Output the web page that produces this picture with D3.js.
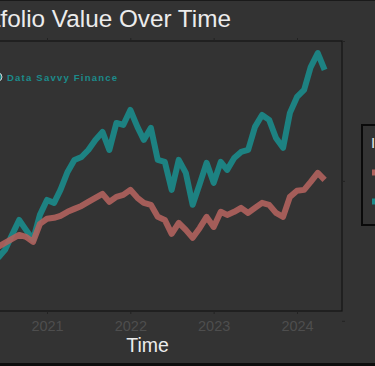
<!DOCTYPE html>
<html>
<head>
<meta charset="utf-8">
<script src="https://cdn.jsdelivr.net/npm/d3@7"></script>
<style>
  html, body { margin: 0; padding: 0; background: #333333; overflow: hidden; }
  svg { display: block; }
</style>
</head>
<body>
<svg id="chart" width="375" height="366"></svg>
<script>
// ---- data ----
const months = ["2020-06","2020-07","2020-08","2020-09","2020-10","2020-11","2020-12",
  "2021-01","2021-02","2021-03","2021-04","2021-05","2021-06","2021-07","2021-08","2021-09","2021-10","2021-11","2021-12",
  "2022-01","2022-02","2022-03","2022-04","2022-05","2022-06","2022-07","2022-08","2022-09","2022-10","2022-11","2022-12",
  "2023-01","2023-02","2023-03","2023-04","2023-05","2023-06","2023-07","2023-08","2023-09","2023-10","2023-11","2023-12",
  "2024-01","2024-02","2024-03","2024-04","2024-05"];
const seriesNames = ["Market Index", "Data Savvy Finance"];
const marketValues = [15290,15570,15860,16140,16000,15640,16930,
  17290,17360,17500,17790,18000,18210,18500,18790,19070,18500,18860,19000,
  19360,18790,18430,18290,17430,17210,16210,17000,16500,15930,16640,17430,
  16710,17790,17570,17790,18070,17710,18070,18430,18290,17710,17430,18860,
  19290,19360,19930,20570,20070];
const dsfValues = [14500,15070,16140,17210,16500,15790,17570,
  18640,18430,19360,20640,21500,21710,22210,22930,23500,22210,24140,24000,
  25070,23860,22930,23790,21500,21360,19360,21500,20570,18290,19790,21290,
  19860,21360,20790,21640,22070,22210,23860,24710,24360,23070,22360,24860,
  26000,26500,28140,29140,27930];
const xTickYears = ["2021","2022","2023","2024"];
const yTicks = [10000, 20000, 30000];
const title = "Portfolio Value Over Time";
const xTitle = "Time";
const legendTitle = "Investment";
const colors = ["#b0625d", "#1b8b8b"];

// ---- layout ----
const svg = d3.select("#chart");
const W = 375, H = 366;
const panel = {left: -47, right: 342, top: 41, bottom: 311};
const bg = "#333333";

svg.append("rect").attr("width", W).attr("height", H).attr("fill", bg);

const parseM = d3.timeParse("%Y-%m");
const parseY = d3.timeParse("%Y");
const dates = months.map(parseM);

const x = d3.scaleTime()
  .domain([parseY("2021"), parseY("2024")])
  .range([47, 297]);
const y = d3.scaleLinear()
  .domain([10700, 30000])
  .range([panel.bottom, panel.top]);

// clip
svg.append("clipPath").attr("id", "clip").append("rect")
  .attr("x", panel.left).attr("y", panel.top)
  .attr("width", panel.right - panel.left).attr("height", panel.bottom - panel.top);

// panel background
svg.append("rect")
  .attr("x", panel.left).attr("y", panel.top)
  .attr("width", panel.right - panel.left).attr("height", panel.bottom - panel.top)
  .attr("fill", bg);

// lines
const line = d3.line().x((d, i) => x(dates[i])).y(d => y(d));
const g = svg.append("g").attr("clip-path", "url(#clip)");
const seriesData = [marketValues, dsfValues];
[1, 0].forEach(k => {
  g.append("path")
    .datum(seriesData[k])
    .attr("d", line)
    .attr("fill", "none")
    .attr("stroke", colors[k])
    .attr("stroke-width", 6)
    .attr("stroke-linejoin", "round")
    .attr("stroke-linecap", "butt")
    .attr("opacity", 0.9);
});

// panel border
svg.append("rect")
  .attr("x", panel.left).attr("y", panel.top)
  .attr("width", panel.right - panel.left).attr("height", panel.bottom - panel.top)
  .attr("fill", "none").attr("stroke", "#141414").attr("stroke-width", 1.2);

// axes
const xTickDates = xTickYears.map(parseY);
const xAxisB = d3.axisBottom(x).tickValues(xTickDates).tickFormat(d3.timeFormat("%Y")).tickSize(3).tickPadding(7);
const gxb = svg.append("g").attr("transform", `translate(0,${panel.bottom})`).call(xAxisB);
gxb.select(".domain").remove();
gxb.selectAll("line").attr("stroke", "#222");
gxb.selectAll("text").attr("fill", "#4e4e4e")
  .style("font-family", "Liberation Sans, Arial, sans-serif").style("font-size", "14.5px");

const xAxisT = d3.axisTop(x).tickValues(xTickDates).tickFormat("").tickSize(3);
const gxt = svg.append("g").attr("transform", `translate(0,${panel.top})`).call(xAxisT);
gxt.select(".domain").remove();
gxt.selectAll("line").attr("stroke", "#222");

const yAxisR = d3.axisRight(y).tickValues(yTicks).tickFormat("").tickSize(3);
const gyr = svg.append("g").attr("transform", `translate(${panel.right},0)`).call(yAxisR);
gyr.select(".domain").remove();
gyr.selectAll("line").attr("stroke", "#222");

// axis title
svg.append("text")
  .attr("x", (panel.left + panel.right) / 2).attr("y", 352)
  .attr("text-anchor", "middle")
  .attr("fill", "#ececec")
  .style("font-family", "Liberation Sans, Arial, sans-serif").style("font-size", "19.5px")
  .text(xTitle);

// title
const t = svg.append("text")
  .attr("y", 27)
  .attr("fill", "#ececec")
  .style("font-family", "Liberation Sans, Arial, sans-serif").style("font-size", "24.3px")
  .text(title);
const offs = t.node().getSubStringLength(0, 4);
t.attr("x", -offs + 0.5);

// inner annotation legend
svg.append("circle")
  .attr("cx", -2).attr("cy", 77).attr("r", 4)
  .attr("fill", colors[1]).attr("stroke", "#cfcfcf").attr("stroke-width", 1);
svg.append("text")
  .attr("x", 7).attr("y", 80.5)
  .attr("fill", colors[1])
  .attr("textLength", 110)
  .style("font-family", "Liberation Sans, Arial, sans-serif").style("font-size", "9.5px")
  .style("font-weight", "bold")
  .text(seriesNames[1]);

// right legend
const lg = svg.append("g");
lg.append("rect")
  .attr("x", 362).attr("y", 125).attr("width", 130).attr("height", 100)
  .attr("fill", bg).attr("stroke", "#0a0a0a").attr("stroke-width", 2);
lg.append("text")
  .attr("x", 371).attr("y", 148)
  .attr("fill", "#e8e8e8")
  .style("font-family", "Liberation Sans, Arial, sans-serif").style("font-size", "15px")
  .text(legendTitle);
seriesNames.forEach((name, i) => {
  const yy = 172.5 + i * 29;
  lg.append("line")
    .attr("x1", 372).attr("x2", 392).attr("y1", yy).attr("y2", yy)
    .attr("stroke", colors[i]).attr("stroke-width", 6);
  lg.append("text")
    .attr("x", 398).attr("y", yy + 5)
    .attr("fill", "#e8e8e8")
    .style("font-family", "Liberation Sans, Arial, sans-serif").style("font-size", "13px")
    .text(name);
});

// outer frame lines (top/bottom edges)
svg.append("rect").attr("x", 0).attr("y", 0).attr("width", W).attr("height", 1).attr("fill", "#1a1a1a");
svg.append("rect").attr("x", 0).attr("y", 363).attr("width", W).attr("height", 3).attr("fill", "#0d0d0d");
</script>
</body>
</html>
